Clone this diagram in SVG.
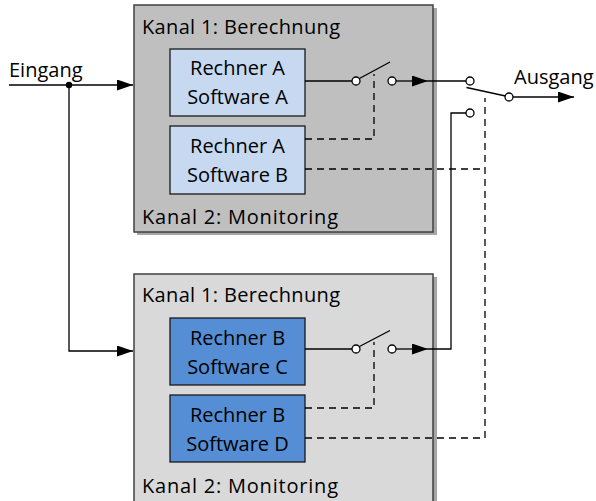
<svg xmlns="http://www.w3.org/2000/svg" width="596" height="501" viewBox="0 0 596 501">
  <defs>
    <marker id="arrow" markerWidth="16" markerHeight="11" refX="16" refY="5.5" orient="auto" markerUnits="userSpaceOnUse">
      <path d="M0,0 L16,5.5 L0,11 Z" fill="#000"/>
    </marker>
  </defs>
  <style>
    text { font-family: "Open Sans", "Noto Sans", "Liberation Sans", sans-serif; font-size: 20px; fill: #000; }
    .mid { text-anchor: middle; }
    .shadow { fill: #a6a6a6; }
    .chanA { fill: #bfbfbf; stroke: #404040; stroke-width: 1.5; }
    .chanB { fill: #d9d9d9; stroke: #404040; stroke-width: 1.5; }
    .light { fill: #c6d9f1; stroke: #1a1a1a; stroke-width: 1.3; }
    .dark { fill: #558ed5; stroke: #1a1a1a; stroke-width: 1.3; }
    .wire { fill: none; stroke: #000; stroke-width: 1.3; }
    .dash { fill: none; stroke: #000; stroke-width: 1.3; stroke-dasharray: 7 5; }
    .pin { fill: #fff; stroke: #000; stroke-width: 1.3; }
  </style>

  <!-- Channel A container -->
  <g id="channel-a">
    <rect class="shadow" x="137" y="8" width="300" height="227"/>
    <rect class="chanA" x="134" y="5" width="299" height="227"/>
    <text x="142" y="34" textLength="198">Kanal 1: Berechnung</text>
    <text x="142" y="224" textLength="196">Kanal 2: Monitoring</text>
  </g>
  <g id="rechner-a-sw-a">
    <rect class="light" x="170" y="49" width="135" height="67"/>
    <text class="mid" x="237.5" y="75">Rechner A</text>
    <text class="mid" x="237.5" y="104">Software A</text>
  </g>
  <g id="rechner-a-sw-b">
    <rect class="light" x="170" y="126" width="135" height="68"/>
    <text class="mid" x="237.5" y="153">Rechner A</text>
    <text class="mid" x="237.5" y="182">Software B</text>
  </g>

  <!-- Channel B container -->
  <g id="channel-b">
    <rect class="shadow" x="137" y="277" width="300" height="240"/>
    <rect class="chanB" x="134" y="274" width="299" height="240"/>
    <text x="142" y="302" textLength="198">Kanal 1: Berechnung</text>
    <text x="142" y="493" textLength="196">Kanal 2: Monitoring</text>
  </g>
  <g id="rechner-b-sw-c">
    <rect class="dark" x="170" y="318" width="135" height="67"/>
    <text class="mid" x="237.5" y="345">Rechner B</text>
    <text class="mid" x="237.5" y="374">Software C</text>
  </g>
  <g id="rechner-b-sw-d">
    <rect class="dark" x="170" y="395" width="135" height="67"/>
    <text class="mid" x="237.5" y="422">Rechner B</text>
    <text class="mid" x="237.5" y="451">Software D</text>
  </g>

  <!-- Terminal labels -->
  <g id="eingang"><text x="9" y="77">Eingang</text></g>
  <g id="ausgang"><text x="514" y="84">Ausgang</text></g>

  <g id="connectors">
    <!-- input split -->
    <path class="wire" d="M9,85 H133" marker-end="url(#arrow)"/>
    <path class="wire" d="M69,85 V351 H133" marker-end="url(#arrow)"/>
    <circle cx="69" cy="85" r="3.2" fill="#000"/>

    <!-- channel A switch -->
    <path class="wire" d="M305,81 H352"/>
    <path class="wire" d="M358.5,79 L390,62"/>
    <path class="wire" d="M396,81 H428" marker-end="url(#arrow)"/>
    <path class="wire" d="M428,81 H466"/>
    <circle class="pin" cx="356" cy="81" r="4"/>
    <circle class="pin" cx="392" cy="81" r="4"/>

    <!-- channel B switch -->
    <path class="wire" d="M305,349 H352"/>
    <path class="wire" d="M358.5,347 L390,330.5"/>
    <path class="wire" d="M396,349 H428" marker-end="url(#arrow)"/>
    <path class="wire" d="M428,349 H451 V113 H466"/>
    <circle class="pin" cx="356" cy="349" r="4"/>
    <circle class="pin" cx="392" cy="349" r="4"/>

    <!-- output changeover switch -->
    <path class="wire" d="M466.5,87.5 L505.5,96"/>
    <path class="wire" d="M513,97 H574" marker-end="url(#arrow)"/>
    <circle class="pin" cx="470" cy="81" r="4"/>
    <circle class="pin" cx="470" cy="113" r="4"/>
    <circle class="pin" cx="509" cy="97" r="4"/>

    <!-- monitoring control lines -->
    <path class="dash" d="M305,139 H374 V74"/>
    <path class="dash" d="M305,408 H374 V342"/>
    <path class="dash" d="M305,169 H485"/>
    <path class="dash" d="M305,438 H485 V98"/>
  </g>
</svg>
